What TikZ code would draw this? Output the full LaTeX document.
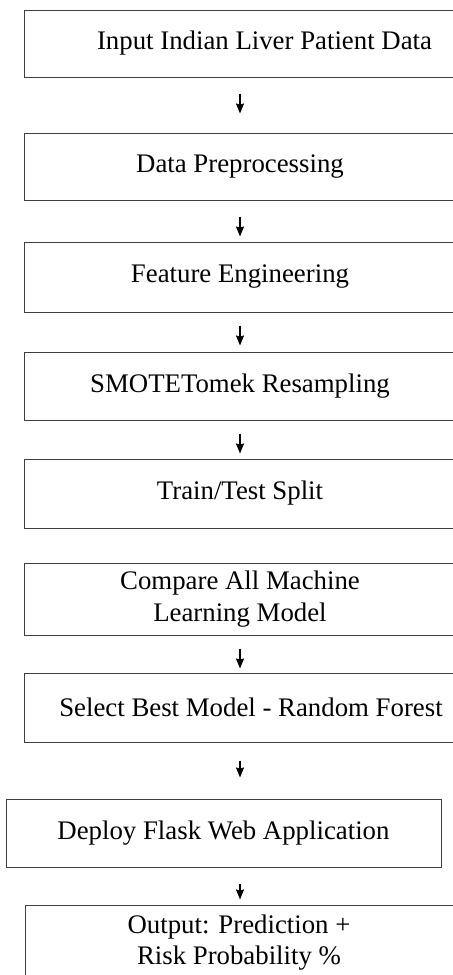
\documentclass[tikz,border=0pt]{standalone}
\usepackage{fontspec}
\setmainfont{Liberation Serif}
\usetikzlibrary{arrows.meta}

\begin{document}
\begin{tikzpicture}[
    x=0.5pt, y=-0.5pt,
    every node/.style={font=\fontsize{13.4}{15.9}\selectfont},
    stepbox/.style={draw=black!75, line width=0.5pt, align=center, inner sep=0pt, minimum width=223pt},
    flow/.style={-{Stealth[length=5pt, width=4pt, inset=0.6pt]}, line width=0.7pt}
]
\useasboundingbox (0,0) rectangle (453,975);
\coordinate (axis) at (240,0);
% boxes run past the right edge, text pulled back to the middle
\node[stepbox, minimum width=240.5pt, minimum height=33.5pt] (input) at (264.5,43.5) {Input Indian Liver Patient Data};
\node[stepbox, minimum height=33.5pt] (prep) at (247,166.5) {\hspace*{-7pt}Data Preprocessing};
\node[stepbox, minimum height=35pt] (feat) at (247,277) {\hspace*{-7pt}Feature Engineering};
\node[stepbox, minimum height=34pt] (smote) at (247,386) {\hspace*{-7pt}SMOTETomek Resampling};
\node[stepbox, minimum height=34.5pt] (split) at (247,493.5) {\hspace*{-7pt}Train/Test Split};
\node[stepbox, minimum height=36pt] (compare) at (247,599) {\hspace*{-7pt}Compare All Machine\\\hspace*{-7pt}Learning Model};
\node[stepbox, minimum width=227pt, minimum height=34.5pt] (best) at (251,707.5) {Select Best Model - Random Forest};
\node[stepbox, minimum width=217.5pt, minimum height=34pt] (deploy) at (223.5,833) {Deploy Flask Web Application};
\node[stepbox, minimum width=222.5pt, minimum height=37.5pt] (output) at (247.5,942.5) {\hspace*{-8.5pt}Output: Prediction +\\\hspace*{-8.5pt}Risk Probability \%};
\draw[flow, shorten <=8pt, shorten >=9.5pt] (input.south -| axis) -- (prep.north -| axis);
\draw[flow, shorten <=8pt, shorten >=2.5pt] (prep.south -| axis) -- (feat.north -| axis);
\draw[flow, shorten <=6.5pt, shorten >=3pt] (feat.south -| axis) -- (smote.north -| axis);
\draw[flow, shorten <=6.5pt, shorten >=2.5pt] (smote.south -| axis) -- (split.north -| axis);
\draw[flow, shorten <=6.5pt, shorten >=2pt] (compare.south -| axis) -- (best.north -| axis);
\draw[flow, shorten <=9pt, shorten >=10.5pt] (best.south -| axis) -- (deploy.north -| axis);
\draw[flow, shorten <=8pt, shorten >=2.5pt] (deploy.south -| axis) -- (output.north -| axis);
\end{tikzpicture}
\end{document}
